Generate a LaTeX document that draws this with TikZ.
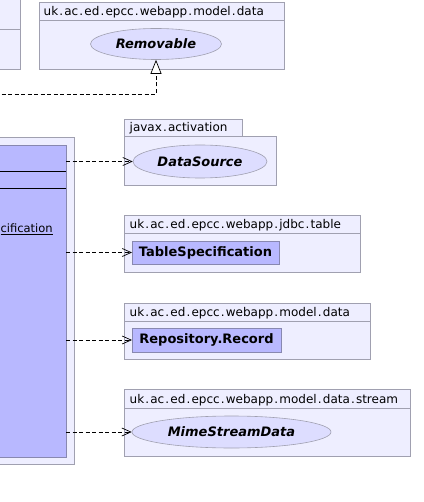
\documentclass[tikz,border=0pt]{standalone}
\usepackage{fontspec}
\setmainfont{DejaVu Sans}
\usetikzlibrary{arrows.meta,shapes.geometric}
\definecolor{pkgfill}{RGB}{238,238,255}
\definecolor{pkgdraw}{RGB}{160,160,176}
\definecolor{clsfill}{RGB}{184,184,255}
\definecolor{clsdraw}{RGB}{136,136,176}
\definecolor{ifill}{RGB}{221,221,255}
\newcommand\pdt{\kern1.15pt.\kern1.15pt}
\tikzset{
  pkg/.style={draw=pkgdraw, fill=pkgfill, line width=0.8pt, inner sep=0pt, outer sep=0pt, anchor=north west},
  pkgsep/.style={draw=pkgdraw, line width=0.8pt},
  ptext/.style={font=\fontsize{12}{14}\selectfont, anchor=base west, inner sep=0pt},
  clsbox/.style={draw=clsdraw, fill=clsfill, line width=0.8pt, inner sep=0pt, outer sep=0pt, anchor=north west},
  iface/.style={ellipse, draw=pkgdraw, fill=ifill, line width=0.6pt, inner sep=0pt,
     font=\fontsize{13}{15}\selectfont\bfseries\itshape},
  cname/.style={font=\fontsize{13}{15}\selectfont\bfseries, inner sep=0pt},
  dep/.style={draw=black, line width=0.7pt, dash pattern=on 4pt off 2.5pt, -{Straight Barb[length=9pt,width=8pt]}},
  real/.style={draw=black, line width=0.7pt, dash pattern=on 4pt off 2.5pt, -{Triangle[open,fill=white,length=14pt,width=11pt]}}
}
\begin{document}
\begin{tikzpicture}[x=1pt,y=-1pt]
\useasboundingbox (0,0) rectangle (423,502);
\clip (0,0) rectangle (423,502);
% top-left package fragment
\node[pkg, minimum width=30.5pt, minimum height=80pt] (ptl) at (-10,-11) {};
\draw[pkgsep] (-10,29) -- (20.5,29);
% package model.data (top)
\node[pkg, minimum width=245pt, minimum height=66.5pt] (p1) at (39,2.5) {};
\draw[pkgsep] (39,20) -- (284,20);
\node[ptext] (p1t) at (43.5,15.5) {uk\pdt ac\pdt ed\pdt epcc\pdt webapp\pdt model\pdt data};
\node[iface, minimum width=131pt, minimum height=31pt] (rem) at (156,44) {Removable};
% left container + class
\node[pkg, minimum width=84pt, minimum height=327pt] (pcls) at (-10,137) {};
\node[clsbox, minimum width=76pt, minimum height=312pt] (cls) at (-10,145) {};
\draw[black, line width=0.7pt] (-10,171.5) -- (cls.east |- 0,171.5);
\draw[black, line width=0.7pt] (-10,188) -- (cls.east |- 0,188);
\node[font=\fontsize{11.5}{13}\selectfont, anchor=base west, inner sep=0pt] (mem) at (0.4,233) {\underline{cification}};
% realization
\coordinate (rstart) at (-5,94.5);
\draw[real] (rstart) -| (rem.south);
% javax.activation
\node[pkg, minimum width=118pt, minimum height=17pt] (p2tab) at (124,119) {};
\node[pkg, minimum width=152pt, minimum height=49pt] (p2) at (124,136) {};
\node[ptext] (p2t) at (129.5,132) {javax\pdt activation};
\node[iface, minimum width=134pt, minimum height=33pt] (ds) at (200,161.5) {DataSource};
% jdbc.table
\node[pkg, minimum width=236pt, minimum height=57pt] (p3) at (124,215) {};
\draw[pkgsep] (124,233) -- (360,233);
\node[ptext] (p3t) at (129.5,228.5) {uk\pdt ac\pdt ed\pdt epcc\pdt webapp\pdt jdbc\pdt table};
\node[clsbox, minimum width=147pt, minimum height=23pt] (ts) at (132,241) {};
\node[cname] (tst) at (ts.center) {TableSpecification};
% model.data 2
\node[pkg, minimum width=246pt, minimum height=56pt] (p4) at (124,303) {};
\draw[pkgsep] (124,321) -- (370,321);
\node[ptext] (p4t) at (129.5,316.5) {uk\pdt ac\pdt ed\pdt epcc\pdt webapp\pdt model\pdt data};
\node[clsbox, minimum width=149pt, minimum height=24pt] (rr) at (132,328) {};
\node[cname] (rrt) at (rr.center) {Repository.Record};
% stream
\node[pkg, minimum width=286pt, minimum height=67pt] (p5) at (124,389) {};
\draw[pkgsep] (124,408) -- (410,408);
\node[ptext] (p5t) at (129.5,403) {uk\pdt ac\pdt ed\pdt epcc\pdt webapp\pdt model\pdt data\pdt stream};
\node[iface, minimum width=199pt, minimum height=32pt] (ms) at (231.5,432) {MimeStreamData};
% dependencies
\draw[dep] (cls.east |- ds) -- (ds.west);
\draw[dep] (cls.east |- ts) -- (ts.west);
\draw[dep] (cls.east |- rr) -- (rr.west);
\draw[dep] (cls.east |- ms) -- (ms.west);
\end{tikzpicture}
\end{document}
